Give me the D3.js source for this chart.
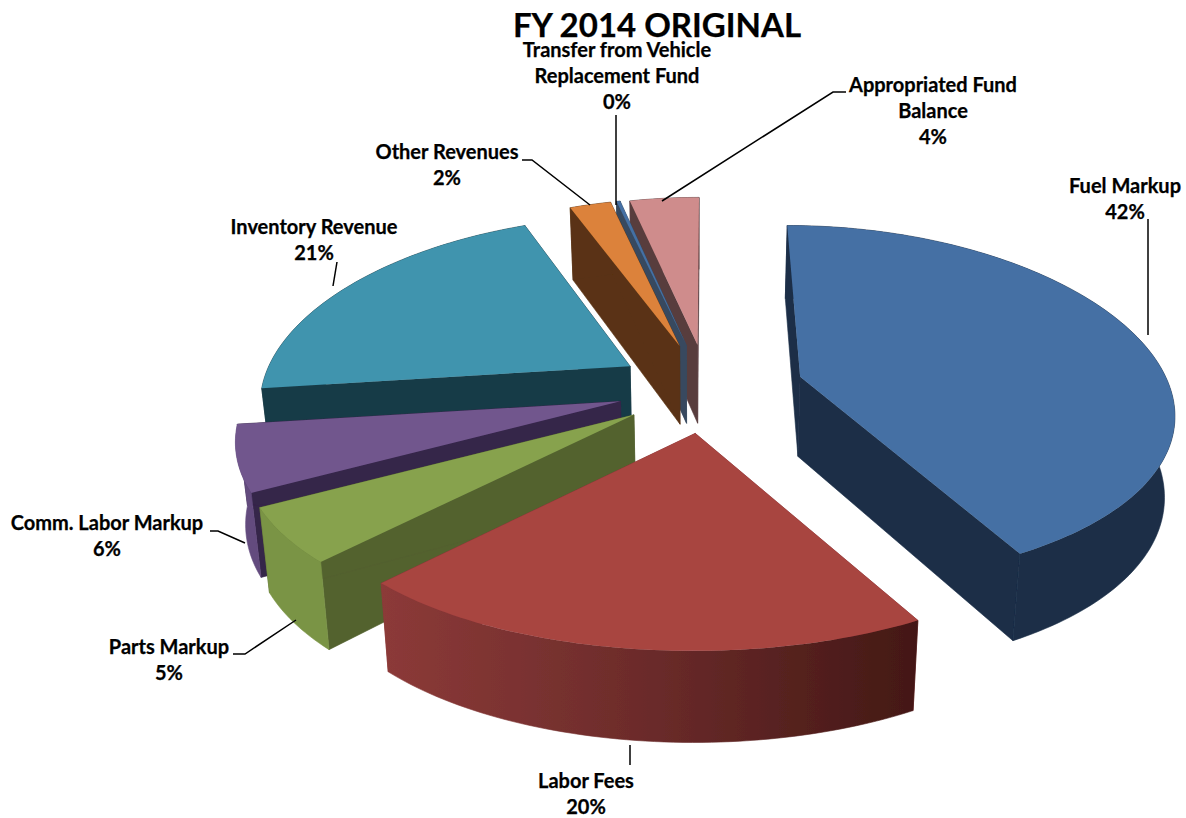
<!DOCTYPE html>
<html><head><meta charset="utf-8">
<script src="https://cdn.jsdelivr.net/npm/d3@7"></script>
<style>html,body{margin:0;background:#fff}svg{display:block}text{font-family:Lato,"Open Sans",sans-serif;font-weight:700;fill:#000;stroke:#000;stroke-width:0.25px}</style>
</head><body><svg id="c" width="1186" height="818"></svg>
<script>
const categories=["Fuel Markup","Labor Fees","Parts Markup","Comm. Labor Markup","Inventory Revenue","Other Revenues","Transfer from Vehicle Replacement Fund","Appropriated Fund Balance"];
const values=[42.1,20,5,5.9,20.9,2.2,0.2,3.7];
const explode=[0.26,0.25,0.245,0.245,0.25,0.26,0.26,0.255];
const topColors=["#4470a4","#a84441","#87a24e","#71568d","#3f94ae","#dc823a","#4470a4","#cf8c8c"];
const cutColors=["#1b2e47","#8a3635","#53622f","#35254a","#183b47","#5a3314","#37495f","#593d3e"];
const wallColors=["#1b2e47","url(#laborWall)","#7a9445","#634b7e","#183b47","#5a3314","#37495f","#593d3e"];
const drawOrder=[7,6,5,0,4,3,2,1];
const labelLines=[
 {lines:["Fuel Markup","42%"],x:1125,y:193},
 {lines:["Labor Fees","20%"],x:586,y:788},
 {lines:["Parts Markup","5%"],x:169,y:654},
 {lines:["Comm. Labor Markup","6%"],x:107,y:530},
 {lines:["Inventory Revenue","21%"],x:314,y:234},
 {lines:["Other Revenues","2%"],x:447,y:159},
 {lines:["Transfer from Vehicle","Replacement Fund","0%"],x:617,y:57},
 {lines:["Appropriated Fund","Balance","4%"],x:933,y:92}];
const leaders=[
 [[1148,219],[1148,335]],
 [[630,745],[630,765]],
 [[233,654],[245,654],[296,620]],
 [[210,531],[218,531],[245,543]],
 [[337,262],[333,286]],
 [[522,160],[532,160],[590,205]],
 [[616,115],[616,205]],
 [[846,92],[833,92],[662,201]]];

const cx=708,cy=388,R=370,RY=176,PX=0.19,PY=0.153,SHEAR=0.14,DEPTH=80,LEAN=0.022,VX=700;
const svg=d3.select("#c");
const defs=svg.append("defs");
const g=defs.append("linearGradient").attr("id","laborWall");
g.append("stop").attr("offset","0").attr("stop-color","#8c3a38");
g.append("stop").attr("offset","0.5").attr("stop-color","#6b2b2a");
g.append("stop").attr("offset","1").attr("stop-color","#431815");
defs.append("filter").attr("id","soft").append("feGaussianBlur").attr("stdDeviation",0.45);

const rx=d3.scaleLinear().domain([0,1]).range([0,R]);
const ry=d3.scaleLinear().domain([0,1]).range([0,RY]);
const persX=Y=>1/(1-PX*Y), persY=Y=>1/(1-PY*Y);
const arcs=d3.pie().sort(null).startAngle(0).endAngle(2*Math.PI)(values);
const line=d3.line();

function geom(i){
  const a=arcs[i],mid=(a.startAngle+a.endAngle)/2,e=explode[i];
  const ex=e*Math.sin(mid),ey=-e*Math.cos(mid);
  const ax=cx+rx(ex)*persX(ey), ay=cy+ry(ey)*persY(ey);
  const top=t=>{
    const X=Math.sin(t),Y=-Math.cos(t),s=persX(Y+ey);
    return [ax+rx(X)*s+SHEAR*(ax-cx)*Y, ay+ry(Y)*persY(Y+ey), s];
  };
  const down=p=>[p[0]+(VX-p[0])*LEAN, p[1]+DEPTH*Math.sqrt(p[2])];
  const n=Math.max(2,Math.ceil((a.endAngle-a.startAngle)/0.02));
  const rim=d3.range(n+1).map(k=>top(a.startAngle+(a.endAngle-a.startAngle)*k/n));
  return {apex:[ax,ay,persX(ey)],rim,down};
}
const pie=svg.append("g").attr("filter","url(#soft)");
const face=(gs,pts,fill)=>gs.append("path").attr("d",line(pts)+"Z").attr("fill",fill).attr("stroke",fill).attr("stroke-width",0.6);
drawOrder.forEach(i=>{
  const {apex,rim,down}=geom(i);
  const gs=pie.append("g").attr("data-name",categories[i]);
  const first=rim[0],last=rim[rim.length-1];
  const P2=p=>[p[0],p[1]];
  face(gs,[apex,first,down(first),down(apex)].map(P2),cutColors[i]);
  face(gs,[apex,last,down(last),down(apex)].map(P2),cutColors[i]);
  face(gs,rim.map(P2).concat(rim.slice().reverse().map(down)),wallColors[i]);
  gs.append("path").attr("d",line([P2(apex)].concat(rim.map(P2)))+"Z").attr("fill",topColors[i]);
});
svg.append("g").selectAll("path").data(leaders).join("path")
  .attr("d",d=>line(d)).attr("fill","none").attr("stroke","#000").attr("stroke-width",1.5);
const lab=svg.append("g").attr("text-anchor","middle").attr("font-size",20);
labelLines.forEach(l=>l.lines.forEach((t,j)=>{
  lab.append("text").attr("x",l.x).attr("y",l.y+j*26).text(t);
}));
svg.append("text").attr("x",657).attr("y",36.5).attr("text-anchor","middle").attr("font-size",33).text("FY 2014 ORIGINAL");
</script></body></html>
